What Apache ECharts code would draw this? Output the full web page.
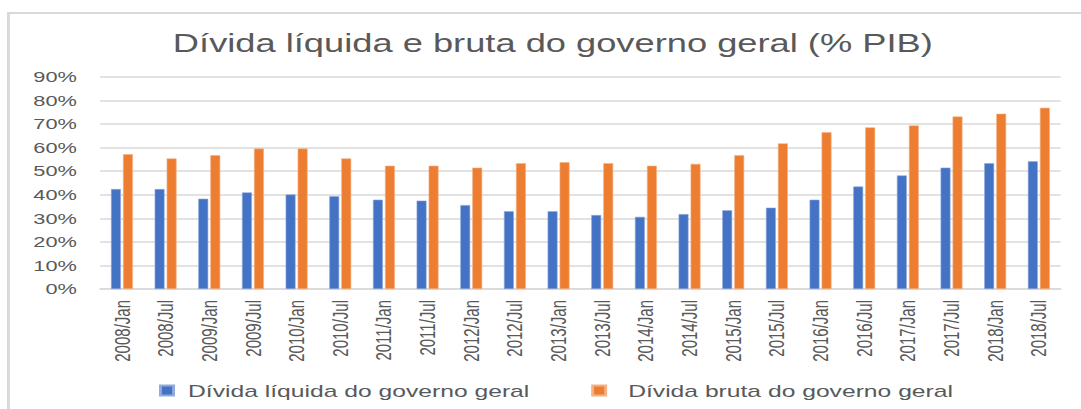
<!DOCTYPE html>
<html>
<head>
<meta charset="utf-8">
<script src="https://cdn.jsdelivr.net/npm/echarts@6/dist/echarts.min.js"></script>
<style>
  html, body { margin: 0; padding: 0; background: #fff; overflow: hidden; }
  #chart { width: 745px; height: 409px; transform: scaleX(1.451); transform-origin: 0 0; }
</style>
</head>
<body>
<div id="chart"></div>
<script>
const categories = ['2008/Jan','2008/Jul','2009/Jan','2009/Jul','2010/Jan','2010/Jul','2011/Jan','2011/Jul','2012/Jan','2012/Jul','2013/Jan','2013/Jul','2014/Jan','2014/Jul','2015/Jan','2015/Jul','2016/Jan','2016/Jul','2017/Jan','2017/Jul','2018/Jan','2018/Jul'];
const dividaLiquida = [42.4, 42.4, 38.3, 41.0, 40.1, 39.4, 37.9, 37.5, 35.6, 33.0, 33.0, 31.4, 30.6, 31.8, 33.4, 34.5, 37.9, 43.5, 48.2, 51.5, 53.4, 54.2];
const dividaBruta = [57.2, 55.4, 56.8, 59.6, 59.6, 55.4, 52.3, 52.3, 51.5, 53.4, 53.8, 53.4, 52.3, 53.1, 56.8, 61.8, 66.5, 68.6, 69.4, 73.2, 74.4, 76.9];
const seriesNames = ['Dívida líquida do governo geral', 'Dívida bruta do governo geral'];
const titleText = 'Dívida líquida e bruta do governo geral (% PIB)';

const chart = echarts.init(document.getElementById('chart'), null, { renderer: 'svg', width: 745, height: 409 });
chart.setOption({
  animation: false,
  backgroundColor: '#ffffff',
  title: {
    text: titleText,
    left: 376,
    textAlign: 'center',
    top: 26,
    textStyle: { fontFamily: 'Liberation Sans', fontSize: 25, fontWeight: 'normal', color: '#595959' }
  },
  graphic: [{
    type: 'rect',
    shape: { x: 5.8, y: 13, width: 800, height: 420 },
    style: { fill: 'none', stroke: '#d9d9d9', lineWidth: 2 },
    silent: true
  }],
  legend: {
    data: [
      { name: seriesNames[0], textStyle: { padding: [0, 0, 0, 5] } },
      { name: seriesNames[1], textStyle: { padding: [0, 0, 0, 10.5] } }
    ],
    left: 104.6,
    top: 377,
    itemWidth: 9,
    itemHeight: 10,
    itemGap: 42.5,
    icon: 'rect',
    textStyle: { fontFamily: 'Liberation Sans', fontSize: 17, color: '#595959' }
  },
  grid: { left: 69, right: 14, top: 77, bottom: 120, containLabel: false },
  xAxis: {
    type: 'category',
    data: categories,
    axisLine: { lineStyle: { color: '#d9d9d9', width: 1.5 } },
    axisTick: { show: false },
    axisLabel: { rotate: 90, margin: 11, interval: 0, fontFamily: 'Liberation Sans', fontSize: 15, color: '#595959' }
  },
  yAxis: {
    type: 'value',
    min: 0,
    max: 90,
    interval: 10,
    axisLine: { show: false },
    axisTick: { show: false },
    splitLine: { lineStyle: { color: '#d9d9d9', width: 1.5 } },
    axisLabel: { formatter: '{value}%', margin: 16, fontFamily: 'Liberation Sans', fontSize: 15, color: '#595959' }
  },
  series: [
    {
      name: seriesNames[0], type: 'bar', data: dividaLiquida,
      barWidth: 6.9, barGap: '20%',
      itemStyle: { color: '#4472C4', borderColor: '#8faadc', borderWidth: 0.5 }
    },
    {
      name: seriesNames[1], type: 'bar', data: dividaBruta,
      barWidth: 6.9, barGap: '20%',
      itemStyle: { color: '#ED7D31', borderColor: '#f4b183', borderWidth: 0.5 }
    }
  ]
});
</script>
</body>
</html>
